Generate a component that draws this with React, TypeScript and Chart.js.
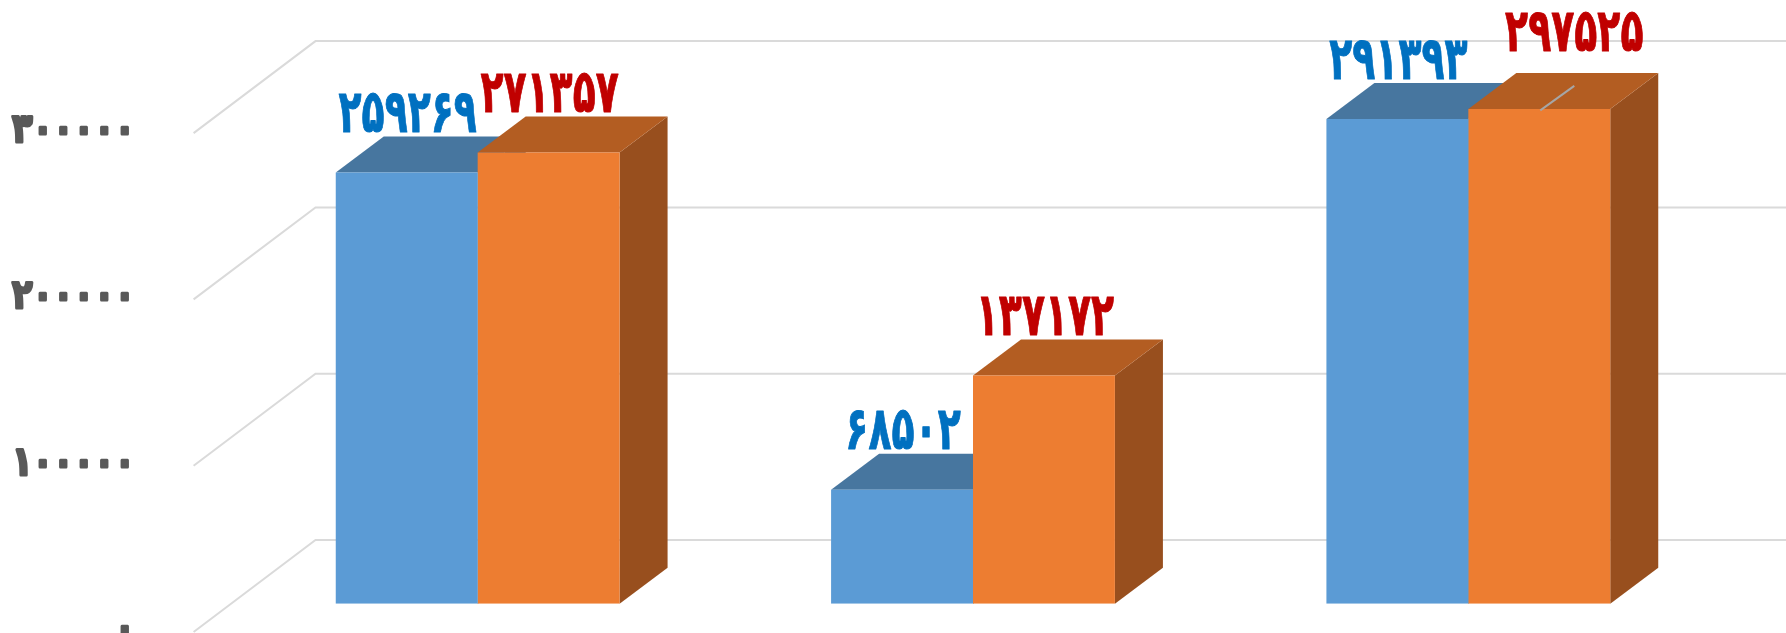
import React, { useEffect, useRef } from "react";
import { Chart, registerables } from "chart.js";

Chart.register(...registerables);

const categories = ["الف", "ب", "ج"];
const seriesBlue = [259269, 68502, 291393];
const seriesOrange = [271357, 137172, 297525];
const yTicks = [0, 100000, 200000, 300000];

const toPersian = (n: number) =>
  String(n).replace(/[0-9]/g, (d) => "۰۱۲۳۴۵۶۷۸۹"[Number(d)]);

const BAR_DX = 48;
const BAR_DY = 36;
const FLOOR_FRONT_X = 193.6;
const FLOOR_BACK_X = 315.5;
const FLOOR_FRONT_DY = 28.3;
const FLOOR_BACK_DY = -63.7;
const TICK_RIGHT = 135;
const TICK_DY = 27;

const depthColors = [
  { top: "#47769F", side: "#3F6A90" },
  { top: "#B35D22", side: "#984F1E" },
];
const labelColors = ["#0070C0", "#C00000"];
// hand-moved label in the source chart: dataset, index, shift
const movedLabels = [{ ds: 1, i: 2, dx: 34, dy: -18 }];

const box3d = {
  id: "box3d",
  beforeDatasetsDraw(chart: any) {
    const { ctx } = chart;
    const y = chart.scales.y;
    ctx.save();
    ctx.strokeStyle = "#DADADA";
    ctx.lineWidth = 2;
    yTicks.forEach((v) => {
      const p = y.getPixelForValue(v);
      ctx.beginPath();
      ctx.moveTo(FLOOR_FRONT_X, p + FLOOR_FRONT_DY);
      ctx.lineTo(FLOOR_BACK_X, p + FLOOR_BACK_DY);
      ctx.lineTo(chart.width, p + FLOOR_BACK_DY);
      ctx.stroke();
    });
    chart.data.datasets.forEach((_: any, di: number) => {
      chart.getDatasetMeta(di).data.forEach((bar: any) => {
        const l = bar.x - bar.width / 2;
        const r = bar.x + bar.width / 2;
        const t = bar.y;
        const b = bar.base;
        ctx.fillStyle = depthColors[di].side;
        ctx.beginPath();
        ctx.moveTo(r, t);
        ctx.lineTo(r + BAR_DX, t - BAR_DY);
        ctx.lineTo(r + BAR_DX, b - BAR_DY);
        ctx.lineTo(r, b);
        ctx.closePath();
        ctx.fill();
        ctx.fillStyle = depthColors[di].top;
        ctx.beginPath();
        ctx.moveTo(l, t);
        ctx.lineTo(l + BAR_DX, t - BAR_DY);
        ctx.lineTo(r + BAR_DX, t - BAR_DY);
        ctx.lineTo(r, t);
        ctx.closePath();
        ctx.fill();
      });
    });
    ctx.restore();
  },
  afterDatasetsDraw(chart: any) {
    const { ctx } = chart;
    const yScale = chart.scales.y;
    ctx.save();
    ctx.lineJoin = "round";
    ctx.textBaseline = "middle";

    ctx.textAlign = "right";
    ctx.font = "bold 40px 'DejaVu Sans'";
    ctx.fillStyle = "#595959";
    ctx.strokeStyle = "#595959";
    yScale.ticks.forEach((tick: any) => {
      ctx.save();
      ctx.translate(TICK_RIGHT, yScale.getPixelForValue(tick.value) + TICK_DY);
      ctx.scale(0.84, 1);
      ctx.lineWidth = 3;
      ctx.strokeText(tick.label, 0, 0);
      ctx.fillText(tick.label, 0, 0);
      ctx.restore();
    });

    ctx.textAlign = "center";
    ctx.font = "bold 60px 'DejaVu Sans'";
    chart.data.datasets.forEach((ds: any, di: number) => {
      chart.getDatasetMeta(di).data.forEach((bar: any, i: number) => {
        const moved = movedLabels.find((m) => m.ds === di && m.i === i);
        const x = bar.x + 1 + (moved ? moved.dx : 0);
        const y = bar.y - 56 + (moved ? moved.dy : 0);
        if (moved) {
          ctx.strokeStyle = "#A6A6A6";
          ctx.lineWidth = 2;
          ctx.beginPath();
          ctx.moveTo(bar.x + 1, bar.y + 1.5);
          ctx.lineTo(x, bar.y - 23);
          ctx.stroke();
        }
        ctx.save();
        ctx.translate(x, y);
        ctx.scale(0.63, 1);
        ctx.fillStyle = labelColors[di];
        ctx.strokeStyle = labelColors[di];
        ctx.lineWidth = 1;
        const text = toPersian(ds.data[i]);
        ctx.strokeText(text, 0, 0);
        ctx.fillText(text, 0, 0);
        ctx.restore();
      });
    });
    ctx.restore();
  },
};

export default function App() {
  const ref = useRef<HTMLCanvasElement>(null);
  useEffect(() => {
    const chart = new Chart(ref.current!, {
      type: "bar",
      data: {
        labels: categories,
        datasets: [
          { data: seriesBlue, backgroundColor: "#5B9BD5" },
          { data: seriesOrange, backgroundColor: "#ED7D31" },
        ],
      },
      options: {
        responsive: false,
        animation: false,
        devicePixelRatio: 1,
        layout: { padding: { top: 104.8, bottom: 29.3, right: 70, left: 0 } },
        datasets: { bar: { categoryPercentage: 0.573, barPercentage: 1 } },
        plugins: { legend: { display: false }, tooltip: { enabled: false } },
        scales: {
          x: { display: false },
          y: {
            min: 0,
            max: 300000,
            afterFit: (s: any) => {
              s.width = 230;
              s.paddingTop = 0;
              s.paddingBottom = 0;
            },
            border: { display: false },
            grid: { display: false, drawTicks: false },
            ticks: {
              display: false,
              stepSize: 100000,
              callback: (v: any) => toPersian(Number(v)),
            },
          },
        },
      },
      plugins: [box3d],
    } as any);
    return () => chart.destroy();
  }, []);
  return (
    <canvas
      ref={ref}
      width={1786}
      height={633}
      style={{ position: "absolute", left: 0, top: 0, display: "block" }}
    />
  );
}
